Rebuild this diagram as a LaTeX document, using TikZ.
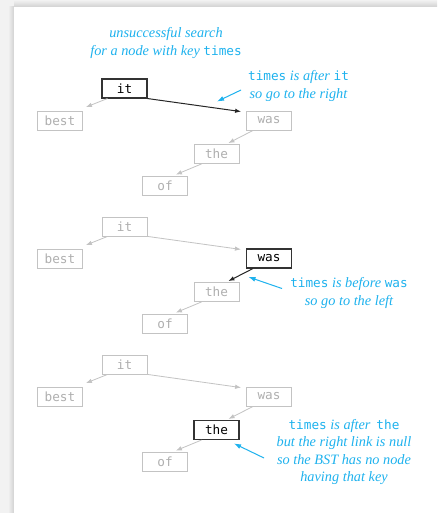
\documentclass[tikz,border=0pt]{standalone}
\usepackage{fontspec}
\setmainfont{Liberation Serif}
\setmonofont{DejaVu Sans Mono}
\usetikzlibrary{arrows.meta, positioning}
\definecolor{note}{RGB}{30,178,238}
\definecolor{faded}{RGB}{195,195,195}
\definecolor{pagegray}{RGB}{242,242,242}

\tikzset{
  key/.style={draw=faded, text=faded!90!black, line width=0.8pt, minimum width=45pt,
    minimum height=19pt, inner sep=0pt, font=\fontsize{12.7}{14}\ttfamily},
  cur/.style={key, draw=black!80, text=black, line width=1.1pt},
  link/.style={faded, line width=0.8pt, -{Latex[length=6pt,width=4.5pt]}},
  hot/.style={link, black!85, line width=1pt},
  say/.style={note, align=center, font=\fontsize{14.3}{17.5}\selectfont\itshape},
  point/.style={note, line width=1pt, {Latex[length=7pt,width=5pt]}-}
}
\newcommand{\kw}[1]{{\upshape\fontsize{12.7}{14}\ttfamily #1}}

\begin{document}
\begin{tikzpicture}[x=1pt, y=-1pt]
  \useasboundingbox (0,0) rectangle (437,513);
  % page and its shadow
  \fill[pagegray] (0,0) rectangle (437,513);
  \shade[left color=pagegray, right color=black!18] (8,7) rectangle (14,513);
  \shade[top color=pagegray, bottom color=black!18] (14,0) rectangle (437,7);
  \fill[white] (14,7) rectangle (437,513);

  \node[say] (title) at (166,43) {unsuccessful search\\for a node with key \kw{times}};

  % tree 1: compare with it
  \node[cur] (it1) at (124.5,88.5) {it};
  \node[key] (best1) at (60,121) {best};
  \node[key] (was1) at (269,120.5) {was};
  \node[key] (the1) at (216.5,154) {the};
  \node[key] (of1) at (165,185.5) {of};
  \draw[link] ([xshift=6pt]it1.south west) -- ([xshift=3pt,yshift=4pt]best1.north east);
  \draw[hot] (it1.south east) -- ([xshift=-5pt,yshift=-1pt]was1.north west);
  \draw[link] ([xshift=7pt]was1.south west) -- ([xshift=-11pt,yshift=1pt]the1.north east);
  \draw[link] ([xshift=8pt]the1.south west) -- ([xshift=-12pt,yshift=1pt]of1.north east);
  \node[say] (say1) at (298.5,86) {\kw{times} is after \kw{it}\\so go to the right};
  \coordinate (tip1) at (217,101.5);
  \draw[point] (tip1) -- (241,90);

  % tree 2: compare with was
  \node[key] (it2) at (124.5,226.5) {it};
  \node[key] (best2) at (60,259) {best};
  \node[cur] (was2) at (269,258.5) {was};
  \node[key] (the2) at (216.5,292) {the};
  \node[key] (of2) at (165,323.5) {of};
  \draw[link] ([xshift=6pt]it2.south west) -- ([xshift=3pt,yshift=4pt]best2.north east);
  \draw[link] (it2.south east) -- ([xshift=-5pt,yshift=-1pt]was2.north west);
  \draw[hot] ([xshift=7pt]was2.south west) -- ([xshift=-11pt,yshift=1pt]the2.north east);
  \draw[link] ([xshift=8pt]the2.south west) -- ([xshift=-12pt,yshift=1pt]of2.north east);
  \node[say] (say2) at (349,293) {\kw{times} is before \kw{was}\\so go to the left};
  \coordinate (tip2) at (248.5,277);
  \draw[point] (tip2) -- (282,288.5);

  % tree 3: compare with the, right link is null
  \node[key] (it3) at (124.5,364.5) {it};
  \node[key] (best3) at (60,397) {best};
  \node[key] (was3) at (269,396.5) {was};
  \node[cur] (the3) at (216.5,430) {the};
  \node[key] (of3) at (165,461.5) {of};
  \draw[link] ([xshift=6pt]it3.south west) -- ([xshift=3pt,yshift=4pt]best3.north east);
  \draw[link] (it3.south east) -- ([xshift=-5pt,yshift=-1pt]was3.north west);
  \draw[link] ([xshift=7pt]was3.south west) -- ([xshift=-11pt,yshift=1pt]the3.north east);
  \draw[link] ([xshift=8pt]the3.south west) -- ([xshift=-12pt,yshift=1pt]of3.north east);
  \node[say] (say3) at (344,452) {\kw{times} is after \,\kw{the}\\but the right link is null\\so the BST has no node\\having that key};
  \coordinate (tip3) at (234,443.5);
  \draw[point] (tip3) -- (264,458);
\end{tikzpicture}
\end{document}
